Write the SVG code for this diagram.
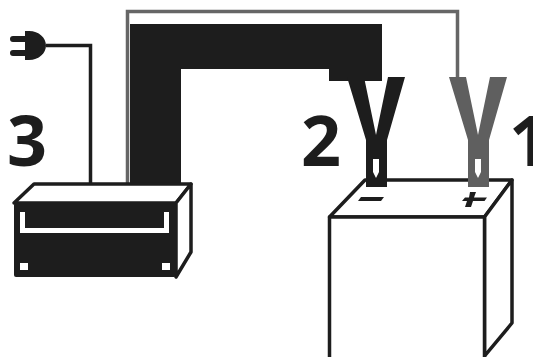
<svg xmlns="http://www.w3.org/2000/svg" width="533" height="357" viewBox="0 0 533 357">
<style>
.k{fill:#1d1d1d}
.w{fill:#fff}
.o{fill:#fff;stroke:#1d1d1d;stroke-width:3.500;stroke-linejoin:round}
.n{font-family:"Open Sans",sans-serif;font-weight:700;font-size:70px;fill:#1d1d1d}
.wire{fill:none;stroke-linejoin:miter}
</style>
<rect width="533" height="357" fill="#fff"/>
<g id="connectors">
<path class="wire" d="M46 45.500H90.500V186" stroke="#1d1d1d" stroke-width="3.500"/>
<path class="wire" d="M127.500 186V11.500H457.500V80" stroke="#666" stroke-width="3.500"/>
<path class="k" d="M130 24H382V81H329V69H181V186H130Z"/>
</g>
<g id="plug">
<path class="k" d="M25 31H29C39 31 46 38 46 45.500C46 53 39 60 29 60H25V56H13A3 3 0 0 1 13 50H25V42H13A3 3 0 0 1 13 36H25Z"/>
</g>
<g id="charger">
<path class="o" d="M14 203L34 184H191L176 203Z"/>
<path class="o" d="M176 203L191 184V252L176 277Z"/>
<rect class="k" x="14" y="203" width="162" height="74" rx="2"/>
<path d="M22.500 212V230.500H166.500V212" fill="none" stroke="#fff" stroke-width="5"/>
<rect class="w" x="20" y="263" width="8" height="7"/>
<rect class="w" x="162" y="263" width="8" height="7"/>
</g>
<g id="battery">
<path class="o" d="M329.500 217L365 180H512L484.500 217Z"/>
<path class="o" d="M484.500 217L512 180V323L484.500 356Z"/>
<path class="o" d="M329.500 217H484.500V360H329.500Z"/>
<path class="k" d="M361 197H384L381 201H358Z"/>
<path class="k" d="M470 192H476L474 197.500H487L484.500 201H473L471 207H465L467 201H462L465 197.500H469Z"/>
</g>
<g id="clamp-2">
<path class="k" fill-rule="evenodd" d="M347 77H364L376 135L388 77H405L387 140V187H366V140ZM373 159V172L376 178L379 172V159Z"/>
</g>
<g id="clamp-1">
<path fill="#5f5f5f" fill-rule="evenodd" d="M449 77H466L478 135L490 77H507L489 140V187H468V140ZM475 159V172L478 178L481 172V159Z"/>
</g>
<g id="labels">
<text class="n" x="7" y="166">3</text>
<text class="n" x="301" y="166">2</text>
<text class="n" x="509" y="166">1</text>
</g>
</svg>
